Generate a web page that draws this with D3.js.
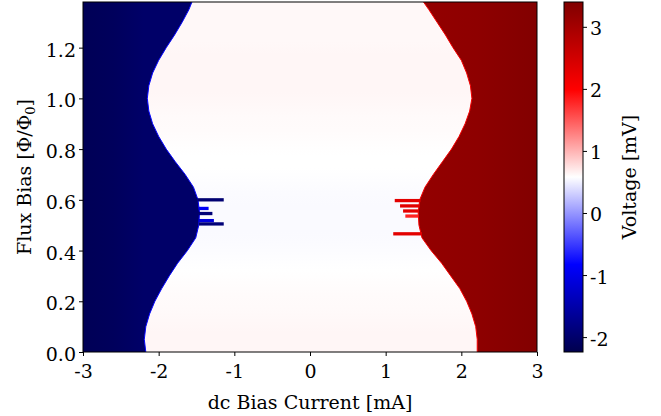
<!DOCTYPE html>
<html>
<head>
<meta charset="utf-8">
<script src="https://cdn.jsdelivr.net/npm/d3@7"></script>
<style>
body { margin: 0; background: #fff; }
svg text { font-family: "DejaVu Serif", "Liberation Serif", serif; }
</style>
</head>
<body>
<svg id="chart"></svg>
<script>
const width = 661, height = 416;
const margin = {left: 83, top: 2, right: 124, bottom: 64};
const plotW = width - margin.left - margin.right;
const plotH = height - margin.top - margin.bottom;

// flux rows and switching currents
const flux  = [0, 0.05, 0.10, 0.15, 0.20, 0.25, 0.30, 0.35, 0.40, 0.45, 0.50, 0.55, 0.60, 0.65,
               0.70, 0.75, 0.80, 0.85, 0.90, 0.95, 1.00, 1.05, 1.10, 1.15, 1.20, 1.25, 1.30, 1.35, 1.38];
const icNeg = [-2.17, -2.19, -2.17, -2.12, -2.05, -1.96, -1.86, -1.75, -1.62, -1.51, -1.47, -1.46, -1.48, -1.54,
               -1.65, -1.78, -1.90, -2.00, -2.08, -2.13, -2.15, -2.13, -2.08, -2.00, -1.90, -1.79, -1.69, -1.60, -1.56];
const icPos = [2.21, 2.21, 2.19, 2.14, 2.07, 1.98, 1.86, 1.74, 1.60, 1.48, 1.44, 1.43, 1.45, 1.52,
               1.63, 1.75, 1.87, 1.97, 2.05, 2.11, 2.14, 2.12, 2.07, 2.00, 1.89, 1.79, 1.68, 1.57, 1.50];
// voltage of the superconducting band, one per flux interval
const midV  = [0.63, 0.63, 0.62, 0.61, 0.60, 0.59, 0.58, 0.57, 0.56, 0.55, 0.55, 0.55, 0.56, 0.57,
               0.58, 0.58, 0.59, 0.60, 0.61, 0.62, 0.63, 0.63, 0.63, 0.63, 0.62, 0.62, 0.62, 0.62];
// resistive branches (current -> voltage)
const negI = [-3, -2.6, -2.2], negV = [-2.17, -2.12, -2.03];
const posI = [1.4, 2.2, 3],    posV = [3.18, 3.24, 3.38];
// switching streaks near half flux: [flux, from, to, voltage]
const streaks = [
  [0.600, -1.49, -1.14, -1.95],
  [0.566, -1.47, -1.34, -0.9],
  [0.546, -1.47, -1.29, -1.9],
  [0.518, -1.47, -1.27, -1.1],
  [0.505, -1.47, -1.14, -1.9],
  [0.597, 1.12, 1.46, 2.3],
  [0.576, 1.19, 1.45, 2.3],
  [0.556, 1.23, 1.44, 2.3],
  [0.536, 1.26, 1.43, 1.8],
  [0.466, 1.10, 1.48, 2.3]
];
const xTicks = [-3, -2, -1, 0, 1, 2, 3];
const yTicks = [0, 0.2, 0.4, 0.6, 0.8, 1.0, 1.2];
const cTicks = [-2, -1, 0, 1, 2, 3];
const vMin = -2.24, vMax = 3.40;

const fontFamily = '"DejaVu Serif", "Liberation Serif", serif';
const fontSize = 19;

const svg = d3.select("#chart").attr("width", width).attr("height", height);
const defs = svg.append("defs");

const x = d3.scaleLinear().domain([-3, 3]).range([margin.left, margin.left + plotW]);
const y = d3.scaleLinear().domain([0, 1.38]).range([margin.top + plotH, margin.top]);

// seismic colormap
const cmap = d3.scaleLinear()
  .domain([0, 0.25, 0.5, 0.75, 1])
  .range(["#00004d", "#0000ff", "#ffffff", "#ff0000", "#800000"]);
const color = v => cmap((v - vMin) / (vMax - vMin));

defs.append("clipPath").attr("id", "plotClip")
  .append("rect").attr("x", margin.left).attr("y", margin.top)
  .attr("width", plotW).attr("height", plotH);

function hGradient(id, is, vs) {
  const g = defs.append("linearGradient").attr("id", id)
    .attr("gradientUnits", "userSpaceOnUse")
    .attr("x1", x(is[0])).attr("x2", x(is[is.length - 1])).attr("y1", 0).attr("y2", 0);
  is.forEach((c, i) => {
    g.append("stop")
      .attr("offset", (x(c) - x(is[0])) / (x(is[is.length - 1]) - x(is[0])))
      .attr("stop-color", color(vs[i]));
  });
}
hGradient("negGrad", negI, negV);
hGradient("posGrad", posI, posV);

// vertical gradient for the superconducting band
const bandGrad = defs.append("linearGradient").attr("id", "bandGrad")
  .attr("gradientUnits", "userSpaceOnUse")
  .attr("x1", 0).attr("x2", 0).attr("y1", y(0)).attr("y2", y(1.38));
midV.forEach((v, i) => {
  const f = (flux[i] + flux[i + 1]) / 2;
  bandGrad.append("stop").attr("offset", f / 1.38).attr("stop-color", color(v));
});

const plot = svg.append("g").attr("clip-path", "url(#plotClip)");

plot.append("rect")
  .attr("x", x(-3)).attr("y", y(1.38))
  .attr("width", plotW).attr("height", plotH)
  .attr("fill", "url(#bandGrad)");

const rows = flux.map((f, i) => ({f, neg: icNeg[i], pos: icPos[i]}));

const leftArea = d3.area()
  .y(d => y(d.f)).x0(x(-3)).x1(d => x(d.neg));
const rightArea = d3.area()
  .y(d => y(d.f)).x0(d => x(d.pos)).x1(x(3));

plot.append("path").datum(rows).attr("d", leftArea).attr("fill", "url(#negGrad)");
plot.append("path").datum(rows).attr("d", rightArea).attr("fill", "url(#posGrad)");

// bright fringe at the switching edge
plot.append("path").datum(rows)
  .attr("d", d3.line().x(d => x(d.neg)).y(d => y(d.f)))
  .attr("fill", "none").attr("stroke", color(-0.8)).attr("stroke-width", 1);
plot.append("path").datum(rows)
  .attr("d", d3.line().x(d => x(d.pos)).y(d => y(d.f)))
  .attr("fill", "none").attr("stroke", color(2.1)).attr("stroke-width", 1);

// streaks
const sh = 0.0065;
plot.selectAll("rect.streak")
  .data(streaks)
  .enter().append("rect")
  .attr("class", "streak")
  .attr("x", d => x(d[1]))
  .attr("width", d => x(d[2]) - x(d[1]))
  .attr("y", d => y(d[0] + sh))
  .attr("height", d => y(d[0] - sh) - y(d[0] + sh))
  .attr("fill", d => color(d[3]));

// frame
svg.append("rect")
  .attr("x", margin.left).attr("y", margin.top)
  .attr("width", plotW).attr("height", plotH)
  .attr("fill", "none").attr("stroke", "#000").attr("stroke-width", 1);

const xAxis = svg.append("g")
  .attr("transform", `translate(0,${margin.top + plotH})`)
  .call(d3.axisBottom(x).tickValues(xTicks).tickSize(4).tickSizeOuter(0)
    .tickFormat(d => String(d)));
const yAxis = svg.append("g")
  .attr("transform", `translate(${margin.left},0)`)
  .call(d3.axisLeft(y).tickValues(yTicks).tickSize(4).tickSizeOuter(0)
    .tickFormat(d3.format(".1f")));

// colorbar
const cbX = 564, cbW = 19;
const cy = d3.scaleLinear().domain([vMin, vMax]).range([margin.top + plotH, margin.top]);
const cg = defs.append("linearGradient").attr("id", "cbGrad")
  .attr("x1", 0).attr("x2", 0).attr("y1", 1).attr("y2", 0);
d3.range(0, 1.0001, 0.05).forEach(t => {
  cg.append("stop").attr("offset", t).attr("stop-color", cmap(t));
});
svg.append("rect")
  .attr("x", cbX).attr("y", margin.top).attr("width", cbW).attr("height", plotH)
  .attr("fill", "url(#cbGrad)").attr("stroke", "#000").attr("stroke-width", 1);

const cAxis = svg.append("g")
  .attr("transform", `translate(${cbX + cbW},0)`)
  .call(d3.axisRight(cy).tickValues(cTicks).tickSize(4).tickSizeOuter(0)
    .tickFormat(d => String(d)));

[xAxis, yAxis, cAxis].forEach(a => {
  a.attr("font-family", fontFamily);
  a.select(".domain").remove();
  a.selectAll("text").attr("font-size", fontSize).attr("fill", "#000");
  a.selectAll("line").attr("stroke", "#000");
});
xAxis.selectAll("text").attr("dy", "1.0em");
yAxis.selectAll("text").attr("dy", "0.45em");
cAxis.selectAll("text").attr("dy", "0.42em");

svg.append("text")
  .attr("x", margin.left + plotW / 2).attr("y", 409)
  .attr("text-anchor", "middle").attr("font-size", fontSize)
  .attr("font-family", fontFamily)
  .text("dc Bias Current [mA]");

const yl = svg.append("text")
  .attr("transform", `translate(31,${margin.top + plotH / 2}) rotate(-90)`)
  .attr("text-anchor", "middle").attr("font-size", fontSize)
  .attr("font-family", fontFamily);
yl.append("tspan").text("Flux Bias [Φ/Φ");
yl.append("tspan").attr("font-size", 13).attr("dy", 4).text("0");
yl.append("tspan").attr("dy", -4).text("]");

svg.append("text")
  .attr("transform", `translate(636,${margin.top + plotH / 2}) rotate(-90)`)
  .attr("text-anchor", "middle").attr("font-size", fontSize)
  .attr("font-family", fontFamily)
  .text("Voltage [mV]");
</script>
</body>
</html>
